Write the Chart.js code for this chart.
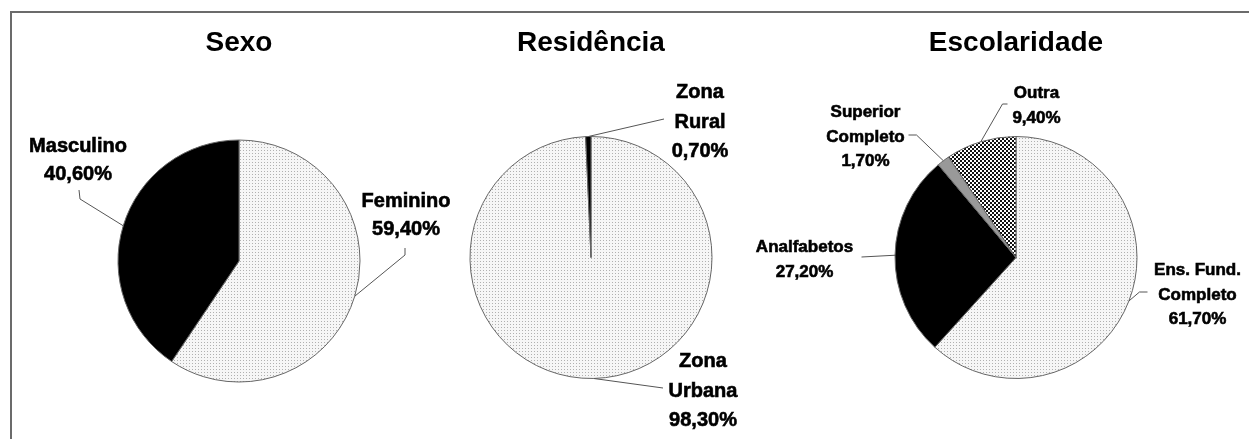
<!DOCTYPE html>
<html>
<head>
<meta charset="utf-8">
<script src="https://cdn.jsdelivr.net/npm/chart.js@4.4.1/dist/chart.umd.min.js"></script>
<style>
  html, body { margin: 0; padding: 0; background: #fff; overflow: hidden; }
  body { width: 1249px; height: 439px; position: relative; }
  .frame { position: absolute; left: 10px; top: 11px; width: 1300px; height: 500px;
           border-top: 2px solid #6b6b6b; border-left: 2px solid #6b6b6b; }
  .box { position: absolute; top: 0; height: 480px; }
</style>
</head>
<body>
<div class="frame"></div>
<div class="box" style="left:0;width:478px"><canvas id="sexoChart"></canvas></div>
<div class="box" style="left:411px;width:360px"><canvas id="residenciaChart"></canvas></div>
<div class="box" style="left:740px;width:509px"><canvas id="escolaridadeChart"></canvas></div>
<script>
// data
const sexoLabels = ['Feminino', 'Masculino'];
const sexoValues = [59.4, 40.6];

const residenciaLabels = [['Zona', 'Urbana'], ['Zona', 'Rural']];
const residenciaValues = [98.3, 0.7];

const escolaridadeLabels = [['Ens. Fund.', 'Completo'], 'Analfabetos', ['Superior', 'Completo'], 'Outra'];
const escolaridadeValues = [61.7, 27.2, 1.7, 9.4];

Chart.defaults.font.family = '"Liberation Sans", Arial, sans-serif';

function dotPattern() {
    const c = document.createElement('canvas');
    c.width = 3; c.height = 3;
    const g = c.getContext('2d');
    g.fillStyle = '#f6f6f6';
    g.fillRect(0, 0, 3, 3);
    g.fillStyle = '#b0b0b0';
    g.fillRect(0, 0, 1, 1);
    return g.createPattern(c, 'repeat');
}

function checkPattern() {
    const c = document.createElement('canvas');
    c.width = 4; c.height = 4;
    const g = c.getContext('2d');
    g.fillStyle = '#fff';
    g.fillRect(0, 0, 4, 4);
    g.fillStyle = '#111';
    g.fillRect(0, 0, 2, 2);
    g.fillRect(2, 2, 2, 2);
    return g.createPattern(c, 'repeat');
}

const fmt = v => v.toFixed(2).replace('.', ',') + '%';

// labels with leader lines, placed relative to the pie centre
const leaderLabels = {
    id: 'leaderLabels',
    afterDatasetsDraw(chart, args, opts) {
        const ctx = chart.ctx;
        const meta = chart.getDatasetMeta(0);
        const labels = chart.data.labels;
        const values = chart.data.datasets[0].data;
        opts.items.forEach(item => {
            const arc = meta.data[item.index];
            const p = arc.getProps(['x', 'y', 'startAngle', 'endAngle', 'outerRadius'], true);
            const mid = (p.startAngle + p.endAngle) / 2;
            ctx.save();
            ctx.strokeStyle = '#555';
            ctx.lineWidth = 1;
            ctx.beginPath();
            ctx.moveTo(p.x + Math.cos(mid) * p.outerRadius, p.y + Math.sin(mid) * p.outerRadius);
            item.path.forEach(([dx, dy]) => ctx.lineTo(p.x + dx, p.y + dy));
            ctx.stroke();

            const lines = [].concat(labels[item.index], fmt(values[item.index]));
            ctx.font = 'bold ' + opts.size + 'px "Liberation Sans", Arial, sans-serif';
            ctx.fillStyle = '#000';
            ctx.strokeStyle = '#000';
            ctx.lineWidth = 0.6;
            ctx.textAlign = 'center';
            ctx.textBaseline = 'alphabetic';
            lines.forEach((t, i) => {
                const tx = p.x + item.dx, ty = p.y + item.dy + i * opts.lineHeight;
                ctx.fillText(t, tx, ty);
                ctx.strokeText(t, tx, ty);
            });
            ctx.restore();
        });
    }
};

function makePie(id, title, labels, values, colors, padding, labelOpts) {
    return new Chart(document.getElementById(id), {
        type: 'pie',
        data: {
            labels: labels,
            datasets: [{
                data: values,
                backgroundColor: colors,
                borderColor: '#666',
                borderWidth: 1,
                radius: 121
            }]
        },
        options: {
            responsive: true,
            maintainAspectRatio: false,
            animation: false,
            events: [],
            layout: { padding: padding },
            plugins: {
                legend: { display: false },
                tooltip: { enabled: false },
                title: {
                    display: true,
                    text: title,
                    color: '#000',
                    font: { size: 28, weight: 'bold' },
                    padding: { top: 26, bottom: 0 }
                },
                leaderLabels: labelOpts
            }
        },
        plugins: [leaderLabels]
    });
}

const dots = dotPattern();

makePie('sexoChart', 'Sexo', sexoLabels, sexoValues, [dots, '#000'],
    { left: 0, right: 0, top: 0, bottom: 17.6 },
    { size: 20, lineHeight: 28, items: [
        { index: 0, dx: 167, dy: -54, path: [[166, -6], [166, -13]] },
        { index: 1, dx: -161, dy: -109, path: [[-159, -62], [-160, -71]] }
    ] });

makePie('residenciaChart', 'Residência', residenciaLabels, residenciaValues, [dots, '#000'],
    { left: 0, right: 0, top: 0, bottom: 24.6 },
    { size: 20, lineHeight: 29.5, items: [
        { index: 0, dx: 112, dy: 109.5, path: [[72, 130.5]] },
        { index: 1, dx: 109, dy: -159.5, path: [[73, -138.5]] }
    ] });

makePie('escolaridadeChart', 'Escolaridade', escolaridadeLabels, escolaridadeValues,
    [dots, '#000', '#999', checkPattern()],
    { left: 43, right: 0, top: 0, bottom: 24.6 },
    { size: 17, lineHeight: 24.5, items: [
        { index: 0, dx: 181.5, dy: 17.5, path: [[123.5, 34.5], [131.5, 34.5]] },
        { index: 1, dx: -211.5, dy: -5.5, path: [[-154.5, -0.5]] },
        { index: 2, dx: -150.5, dy: -140.5, path: [[-99.5, -122.5], [-107.5, -122.5]] },
        { index: 3, dx: 20.5, dy: -159.5, path: [[-13.5, -153.5], [-8.5, -153.5]] }
    ] });
</script>
</body>
</html>
